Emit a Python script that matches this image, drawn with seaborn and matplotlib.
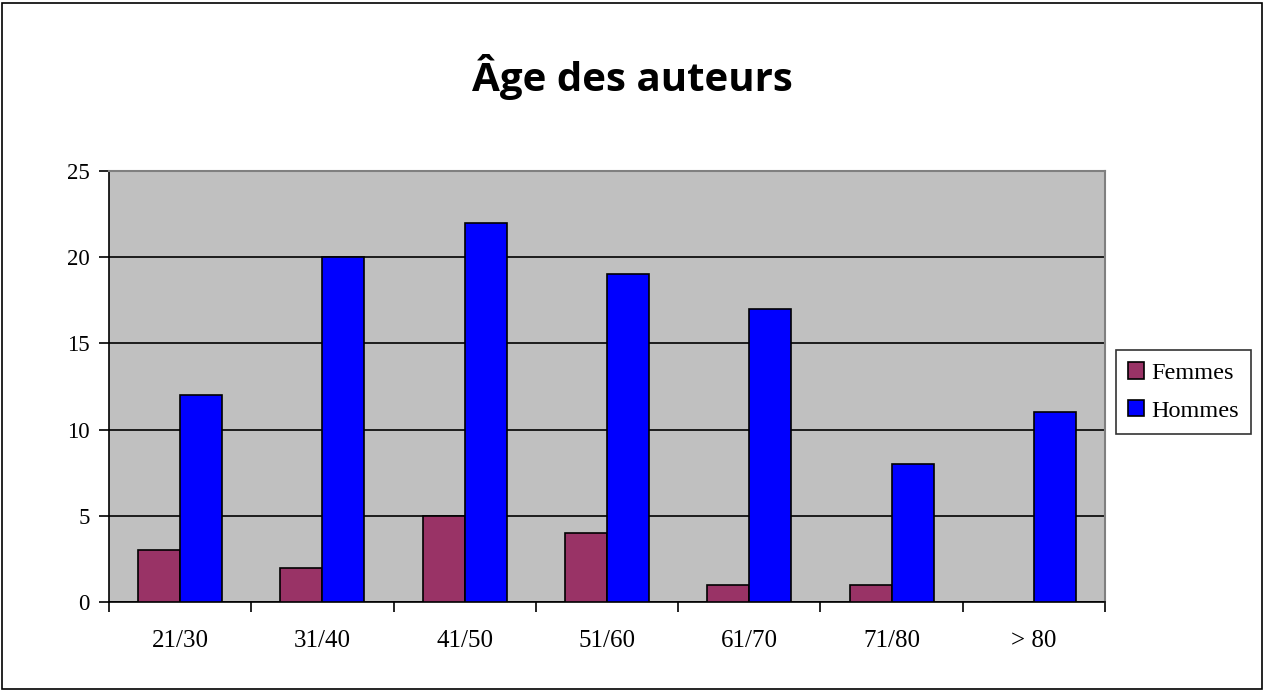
import matplotlib.pyplot as plt
import seaborn as sns
import pandas as pd
from matplotlib.patches import Rectangle
from matplotlib.ticker import FixedLocator

#Data
AGE_GROUPS = ['21/30', '31/40', '41/50', '51/60', '61/70', '71/80', '> 80']
FEMMES = [3, 2, 5, 4, 1, 1, 0]
HOMMES = [12, 20, 22, 19, 17, 8, 11]
Y_TICKS = [0, 5, 10, 15, 20, 25]

#Excel 2003 colours
FEMMES_COLOR = '#993366'
HOMMES_COLOR = '#0000FF'
PLOT_GRAY = '#C0C0C0'

df = pd.DataFrame({
    'Age': AGE_GROUPS * 2,
    'Count': FEMMES + HOMMES,
    'Sexe': ['Femmes'] * len(FEMMES) + ['Hommes'] * len(HOMMES),
})

sns.set_style('white')
plt.rcParams['font.family'] = ['Liberation Serif', 'DejaVu Serif']
plt.rcParams['text.color'] = 'black'

fig = plt.figure(figsize=(12.65, 6.91), dpi=100)
ax = fig.add_axes([109 / 1265, 1 - 602 / 691, (1105 - 109) / 1265, (602 - 171) / 691])
ax.set_facecolor(PLOT_GRAY)

sns.barplot(data=df, x='Age', y='Count', hue='Sexe', ax=ax, width=0.59, gap=0,
            palette={'Femmes': FEMMES_COLOR, 'Hommes': HOMMES_COLOR},
            edgecolor='black', linewidth=1.2, saturation=1, zorder=3)

ax.set_xlim(-0.5, len(AGE_GROUPS) - 0.5)
ax.set_ylim(0, 25)
ax.set_yticks(Y_TICKS)
ax.yaxis.grid(True, color='black', linewidth=1.2, zorder=1)
ax.set_axisbelow(True)

#Ticks at category boundaries, labels centred without ticks
ax.xaxis.set_minor_locator(FixedLocator([i - 0.5 for i in range(len(AGE_GROUPS) + 1)]))
ax.tick_params(axis='x', which='major', length=0, pad=20, labelsize=18, labelcolor='black')
ax.tick_params(axis='x', which='minor', length=7, width=1.2, color='black', direction='out')
ax.tick_params(axis='y', length=7, width=1.2, color='black', direction='out',
               labelsize=16.5, labelcolor='black', pad=7)
ax.xaxis.set_ticks_position('bottom')
ax.yaxis.set_ticks_position('left')
ax.set_xlabel('')
ax.set_ylabel('')

for side in ['left', 'bottom']:
    ax.spines[side].set_color('black')
    ax.spines[side].set_linewidth(1.2)
for side in ['top', 'right']:
    ax.spines[side].set_color('#808080')
    ax.spines[side].set_linewidth(1.5)

handles, labels = ax.get_legend_handles_labels()
leg = ax.legend(handles, labels, loc='center left', bbox_to_anchor=(1.011, 0.487),
                frameon=True, fancybox=False, edgecolor='black', fontsize=17.5,
                handlelength=0.66, handleheight=0.66, handletextpad=0.3,
                borderpad=0.5, labelspacing=0.65, borderaxespad=0)
leg.get_frame().set_linewidth(1.2)
for t in leg.get_texts():
    t.set_color('black')

fig.text(0.5, 1 - 77 / 691, 'Âge des auteurs', ha='center', va='center', color='black',
         fontsize=29, fontweight='bold', family=['Open Sans', 'DejaVu Sans'])

#Outer chart border
fig.patches.append(Rectangle((2 / 1265, 2 / 691), 1 - 5 / 1265, 1 - 5 / 691,
                             transform=fig.transFigure, fill=False,
                             edgecolor='black', linewidth=1.2))

fig.savefig('out.png', dpi=100)
